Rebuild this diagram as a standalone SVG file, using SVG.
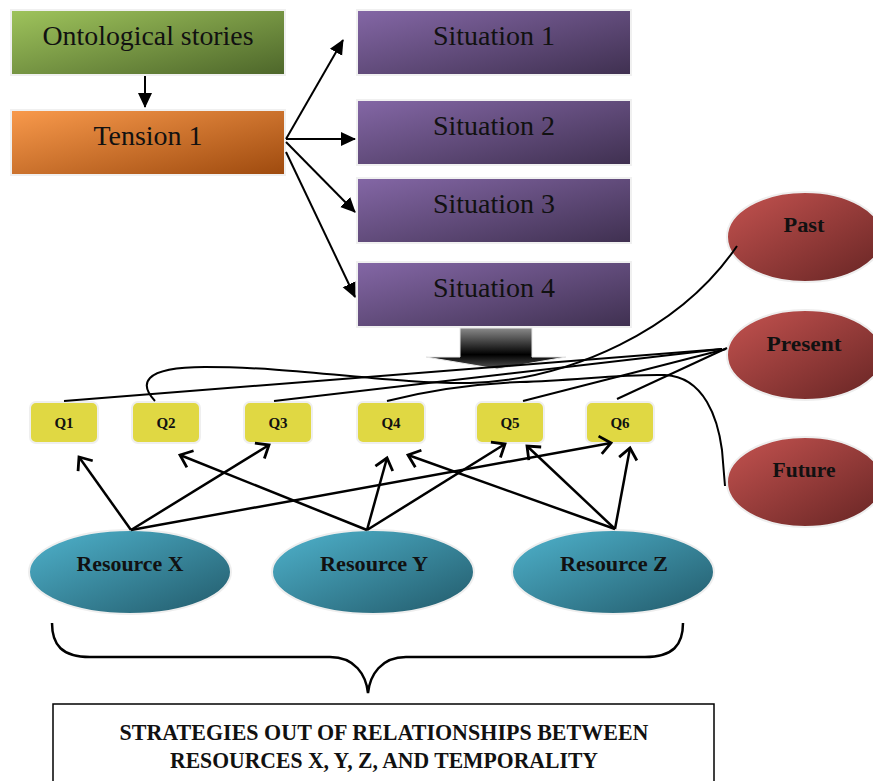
<svg xmlns="http://www.w3.org/2000/svg" width="873" height="781" viewBox="0 0 873 781">
<defs>
<linearGradient id="gGreen" x1="0" y1="0" x2="1" y2="1"><stop offset="0" stop-color="#9fc45c"/><stop offset="1" stop-color="#4d662a"/></linearGradient>
<linearGradient id="gOrange" x1="0" y1="0" x2="1" y2="1"><stop offset="0" stop-color="#f99a4c"/><stop offset="1" stop-color="#9e4a0e"/></linearGradient>
<linearGradient id="gPurple" x1="0" y1="0" x2="1" y2="1"><stop offset="0" stop-color="#8467a6"/><stop offset="1" stop-color="#3f3050"/></linearGradient>
<linearGradient id="gRed" x1="0" y1="0" x2="1" y2="1"><stop offset="0" stop-color="#c55350"/><stop offset="1" stop-color="#652423"/></linearGradient>
<linearGradient id="gBlue" x1="0" y1="0" x2="1" y2="1"><stop offset="0" stop-color="#4fb3cd"/><stop offset="1" stop-color="#225a6a"/></linearGradient>
<linearGradient id="gBlock" x1="0" y1="0" x2="0" y2="1"><stop offset="0" stop-color="#8a8a8a"/><stop offset="0.65" stop-color="#000"/><stop offset="1" stop-color="#555"/></linearGradient>
<marker id="fill" markerUnits="userSpaceOnUse" markerWidth="16" markerHeight="16" viewBox="0 0 16 16" refX="14" refY="8" orient="auto"><path d="M0,1 L15,8 L0,15 z" fill="#000"/></marker>
<marker id="open" markerUnits="userSpaceOnUse" markerWidth="24" markerHeight="24" viewBox="0 0 24 24" refX="14" refY="12" orient="auto"><path d="M3,3 L14,12 L3,21" fill="none" stroke="#000" stroke-width="2.8"/></marker>
<style>
.box{stroke:#f0f0f0;stroke-width:2}
.big{font-family:"Liberation Serif",serif;font-size:28px;fill:#111;text-anchor:middle}
.q{fill:#e0d843;stroke:#efefef;stroke-width:2}
.ql{font-family:"Liberation Serif",serif;font-size:15px;font-weight:bold;fill:#111;text-anchor:middle}
.el{stroke:#eeeeee;stroke-width:2}
.tl{font-family:"Liberation Serif",serif;font-size:20px;font-weight:bold;fill:#111;text-anchor:middle}
.rl{font-family:"Liberation Serif",serif;font-size:21px;font-weight:bold;fill:#111;text-anchor:middle}
.bl{font-family:"Liberation Serif",serif;font-size:23px;font-weight:bold;fill:#111;text-anchor:middle}
.c{fill:none;stroke:#000;stroke-width:2.5}
.t{fill:none;stroke:#000;stroke-width:2}
</style>
</defs>
<g id="ontological"><rect class="box" x="11" y="10" width="274" height="65" fill="url(#gGreen)"/><text class="big" x="148" y="45" textLength="211" lengthAdjust="spacingAndGlyphs">Ontological stories</text></g>
<g id="tension1"><rect class="box" x="11" y="110" width="274" height="65" fill="url(#gOrange)"/><text class="big" x="148" y="145" textLength="109" lengthAdjust="spacingAndGlyphs">Tension 1</text></g>
<g id="situation1"><rect class="box" x="357" y="10" width="274" height="65" fill="url(#gPurple)"/><text class="big" x="494" y="45">Situation 1</text></g>
<g id="situation2"><rect class="box" x="357" y="100" width="274" height="65" fill="url(#gPurple)"/><text class="big" x="494" y="135">Situation 2</text></g>
<g id="situation3"><rect class="box" x="357" y="178" width="274" height="65" fill="url(#gPurple)"/><text class="big" x="494" y="213">Situation 3</text></g>
<g id="situation4"><rect class="box" x="357" y="262" width="274" height="65" fill="url(#gPurple)"/><text class="big" x="494" y="297">Situation 4</text></g>
<g id="blockarrow"><path d="M460,328 L532,328 L532,357 L566,357 L497,369 L426,357 L460,357 Z" fill="url(#gBlock)" stroke="#e8e8e8" stroke-width="1"/></g>
<g id="past"><ellipse class="el" cx="805" cy="237" rx="78" ry="45" fill="url(#gRed)"/><text class="tl" x="804" y="232" textLength="41" lengthAdjust="spacingAndGlyphs">Past</text></g>
<g id="present"><ellipse class="el" cx="805" cy="355" rx="78" ry="45" fill="url(#gRed)"/><text class="tl" x="804" y="351" textLength="75" lengthAdjust="spacingAndGlyphs">Present</text></g>
<g id="future"><ellipse class="el" cx="805" cy="482" rx="78" ry="45" fill="url(#gRed)"/><text class="tl" x="804" y="477" textLength="63" lengthAdjust="spacingAndGlyphs">Future</text></g>
<g id="q1"><rect class="q" x="30" y="402" width="68" height="41" rx="6"/><text class="ql" x="64" y="428">Q1</text></g>
<g id="q2"><rect class="q" x="132" y="402" width="68" height="41" rx="6"/><text class="ql" x="166" y="428">Q2</text></g>
<g id="q3"><rect class="q" x="244" y="402" width="68" height="41" rx="6"/><text class="ql" x="278" y="428">Q3</text></g>
<g id="q4"><rect class="q" x="357" y="402" width="68" height="41" rx="6"/><text class="ql" x="391" y="428">Q4</text></g>
<g id="q5"><rect class="q" x="476" y="402" width="68" height="41" rx="6"/><text class="ql" x="510" y="428">Q5</text></g>
<g id="q6"><rect class="q" x="586" y="402" width="68" height="41" rx="6"/><text class="ql" x="620" y="428">Q6</text></g>
<g id="resourceX"><ellipse class="el" cx="130" cy="572" rx="101" ry="42" fill="url(#gBlue)"/><text class="rl" x="130" y="571" textLength="107" lengthAdjust="spacingAndGlyphs">Resource X</text></g>
<g id="resourceY"><ellipse class="el" cx="373" cy="572" rx="101" ry="42" fill="url(#gBlue)"/><text class="rl" x="374" y="571" textLength="108" lengthAdjust="spacingAndGlyphs">Resource Y</text></g>
<g id="resourceZ"><ellipse class="el" cx="613" cy="572" rx="101" ry="42" fill="url(#gBlue)"/><text class="rl" x="614" y="571" textLength="108" lengthAdjust="spacingAndGlyphs">Resource Z</text></g>
<g id="strategies"><rect x="53" y="704" width="661" height="90" fill="#fff" stroke="#000" stroke-width="1.5"/><text class="bl" x="384" y="740" textLength="529" lengthAdjust="spacingAndGlyphs">STRATEGIES OUT OF RELATIONSHIPS BETWEEN</text><text class="bl" x="384" y="768" textLength="428" lengthAdjust="spacingAndGlyphs">RESOURCES X, Y, Z, AND TEMPORALITY</text></g>
<g id="connectors">
<line class="t" x1="145" y1="76" x2="145" y2="107" marker-end="url(#fill)"/>
<line class="t" x1="286" y1="139" x2="343" y2="40" marker-end="url(#fill)"/>
<line class="t" x1="286" y1="139" x2="355" y2="139" marker-end="url(#fill)"/>
<line class="t" x1="286" y1="142" x2="355" y2="212" marker-end="url(#fill)"/>
<line class="t" x1="286" y1="152" x2="355" y2="297" marker-end="url(#fill)"/>
<line class="c" x1="131" y1="530" x2="79" y2="457" marker-end="url(#open)"/>
<line class="c" x1="131" y1="530" x2="269" y2="445" marker-end="url(#open)"/>
<line class="c" x1="131" y1="530" x2="611" y2="443" marker-end="url(#open)"/>
<line class="c" x1="367" y1="530" x2="180" y2="455" marker-end="url(#open)"/>
<line class="c" x1="367" y1="530" x2="387" y2="458" marker-end="url(#open)"/>
<line class="c" x1="367" y1="530" x2="505" y2="444" marker-end="url(#open)"/>
<line class="c" x1="615" y1="529" x2="408" y2="455" marker-end="url(#open)"/>
<line class="c" x1="615" y1="529" x2="527" y2="446" marker-end="url(#open)"/>
<line class="c" x1="615" y1="529" x2="630" y2="448" marker-end="url(#open)"/>
<line class="t" x1="64" y1="401" x2="722" y2="349"/>
<line class="t" x1="274" y1="401" x2="722" y2="349"/>
<line class="t" x1="523" y1="401" x2="726" y2="349"/>
<line class="t" x1="617" y1="399" x2="727" y2="348"/>
<path class="t" d="M155,401 C140,385 140,367 205,367 C300,367 390,384 470,383 C570,380 680,330 737,246"/>
<path class="t" d="M387,401 C430,390 470,384 520,382 C580,380 620,374 665,375 C705,377 718,420 722,450 L725,486"/>
<path class="c" d="M52,623 C52,645 62,657 90,657 L330,657 C355,657 366,675 368,693 C370,675 381,657 406,657 L645,657 C673,657 683,645 683,623"/>
</g>
</svg>
